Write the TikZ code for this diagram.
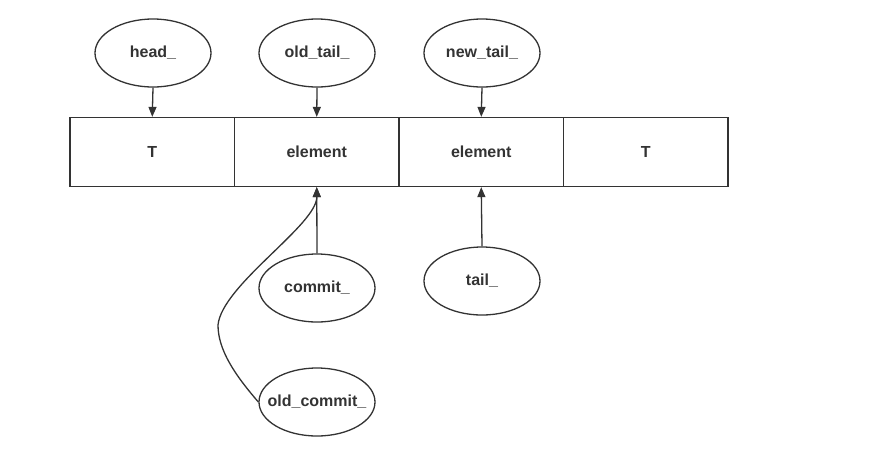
\documentclass[tikz,border=0pt]{standalone}
\usepackage{fontspec}
\setmainfont{Liberation Sans}
\usetikzlibrary{shapes.geometric,arrows.meta}
\definecolor{ink}{HTML}{333333}
\begin{document}
\begin{tikzpicture}[x=1pt,y=-1pt,
  font=\bfseries\fontsize{16}{19}\selectfont,text=ink,
  ptr/.style={shape=ellipse,draw=ink,line width=1.3pt,minimum width=116pt,minimum height=68pt,inner sep=0pt},
  cell/.style={shape=rectangle,draw=ink,line width=1.3pt,minimum width=164.5pt,minimum height=69pt,inner sep=0pt},
  link/.style={draw=ink,line width=1.3pt,-{Triangle[length=10pt,width=8pt]}}]
\def\xa{70};
\def\cw{164.5};
\def\yc{152};
\def\yp{53};

\useasboundingbox (0,0) rectangle (871,467);

\node[cell] (c1) at (\xa+0.5*\cw,\yc) {T};
\node[cell] (c2) at (\xa+1.5*\cw,\yc) {element};
\node[cell] (c3) at (\xa+2.5*\cw,\yc) {element};
\node[cell] (c4) at (\xa+3.5*\cw,\yc) {T};

\node[ptr] (head) at (153,\yp) {head\_};
\draw[link] (head.south) -- (c1.north);
\node[ptr] (oldtail) at (317,\yp) {old\_tail\_};
\draw[link] (oldtail.south) -- (c2.north);
\node[ptr] (newtail) at (482,\yp) {new\_tail\_};
\draw[link] (newtail.south) -- (c3.north);

\node[ptr] (commit) at (317,288) {commit\_};
\draw[link] (commit.north) -- (c2.south);
\node[ptr] (tail) at (482,281) {tail\_};
\draw[link] (tail.north) -- (c3.south);
\node[ptr,inner xsep=-10pt] (oldcommit) at (317,402) {old\_commit\_};
\draw[link] (oldcommit.west) .. controls (235,375) and (218,350) .. (218,325)
  .. controls (222,285) and (317,225) .. (c2.south);
\end{tikzpicture}
\end{document}
